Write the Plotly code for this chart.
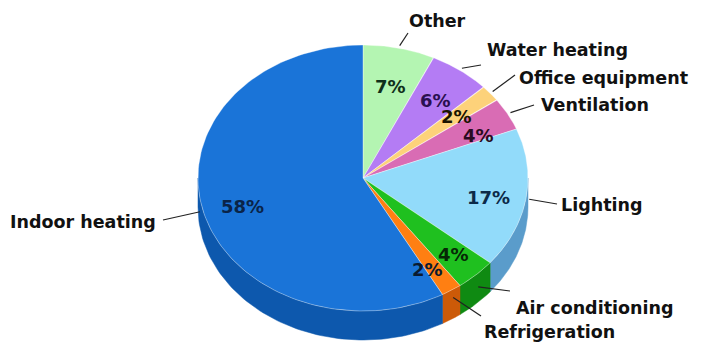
import numpy as np
import plotly.graph_objects as go

# ---- data ----
categories = ["Other", "Water heating", "Office equipment", "Ventilation",
              "Lighting", "Air conditioning", "Refrigeration", "Indoor heating"]
shares = [7, 6, 2, 4, 17, 4, 2, 58]

# ---- styles ----
top_colors = ["#b4f5b2", "#b47cf4", "#fdd27a", "#d96cb4",
              "#92dbfa", "#1fc01f", "#ff7f12", "#1a74d8"]
side_colors = ["#8cd08a", "#8a58c8", "#d8a850", "#b04c8c",
               "#5a9ccb", "#0f8a12", "#cc5a08", "#0d58ad"]
pct_colors = ["#10301a", "#2a1050", "#1a1400", "#2a0a20",
              "#0c2a48", "#062806", "#0a1a30", "#0a2448"]

cx, cy, rx, ry, depth = 363, 178, 165, 133, 29
# percent label centres (layout positions)
pct_pos = [(390, 86), (435, 100), (456, 116), (478, 135),
           (488, 197), (453, 254), (427, 269), (242, 206)]
# label text anchor (x, y, xanchor) and leader end; leader start from mid-angle
label_pos = [(437, 21, "center"), (485, 50, "left"), (517, 78, "left"),
             (539, 105, "left"), (559, 205, "left"), (514, 308, "left"),
             (482, 332, "left"), (158, 222, "right")]
leader_end = [(408, 33), (481, 65), (515, 75), (534, 105), (557, 204),
              (510, 291), (481, 316), (163, 220)]
leader_dy = [0, 0, 0, 0, 0, 10, 5, 0]

FONT = "DejaVu Sans"


def pt(theta_deg, r=1.0, dy=0.0):
    t = np.radians(theta_deg)
    return cx + r * rx * np.sin(t), cy - r * ry * np.cos(t) + dy


fig = go.Figure()
total = float(sum(shares))
bounds = np.concatenate([[0], np.cumsum(shares)]) / total * 360.0

# sides (front half: 90..270 degrees)
for i, name in enumerate(categories):
    a, b = max(bounds[i], 90), min(bounds[i + 1], 270)
    if b <= a:
        continue
    th = np.linspace(a, b, 80)
    x1, y1 = pt(th)
    xs = np.concatenate([x1, x1[::-1], [x1[0]]])
    ys = np.concatenate([y1, y1[::-1] + depth, [y1[0]]])
    fig.add_trace(go.Scatter(x=xs, y=ys, mode="lines", fill="toself",
                             fillcolor=side_colors[i],
                             line=dict(color=side_colors[i], width=0.5),
                             hoverinfo="skip", showlegend=False))

# top faces
for i, name in enumerate(categories):
    th = np.linspace(bounds[i], bounds[i + 1], 120)
    x1, y1 = pt(th)
    xs = np.concatenate([[cx], x1, [cx]])
    ys = np.concatenate([[cy], y1, [cy]])
    fig.add_trace(go.Scatter(x=xs, y=ys, mode="lines", fill="toself",
                             fillcolor=top_colors[i],
                             line=dict(color="rgba(255,255,255,0.6)", width=0.6),
                             hoverinfo="skip", showlegend=False, name=name))

annotations = []
shapes = []
for i, name in enumerate(categories):
    mid = (bounds[i] + bounds[i + 1]) / 2
    px, py = pct_pos[i]
    annotations.append(dict(x=px, y=py, text=f"<b>{shares[i]}%</b>", showarrow=False,
                            font=dict(family=FONT, size=18, color=pct_colors[i]),
                            xanchor="center", yanchor="middle"))
    lx, ly, anc = label_pos[i]
    annotations.append(dict(x=lx, y=ly, text=f"<b>{name}</b>", showarrow=False,
                            font=dict(family=FONT, size=17.5, color="#111111"),
                            xanchor=anc, yanchor="middle"))
    sx, sy = pt(mid, 1.02, leader_dy[i])
    ex, ey = leader_end[i]
    shapes.append(dict(type="line", x0=sx, y0=sy, x1=ex, y1=ey,
                       line=dict(color="#222222", width=1.2)))

fig.update_layout(
    width=702, height=343, margin=dict(l=0, r=0, t=0, b=0),
    paper_bgcolor="white", plot_bgcolor="white",
    xaxis=dict(range=[0, 702], visible=False, fixedrange=True),
    yaxis=dict(range=[343, 0], visible=False, fixedrange=True),
    annotations=annotations, shapes=shapes, showlegend=False,
)
fig.write_html("out.html")
